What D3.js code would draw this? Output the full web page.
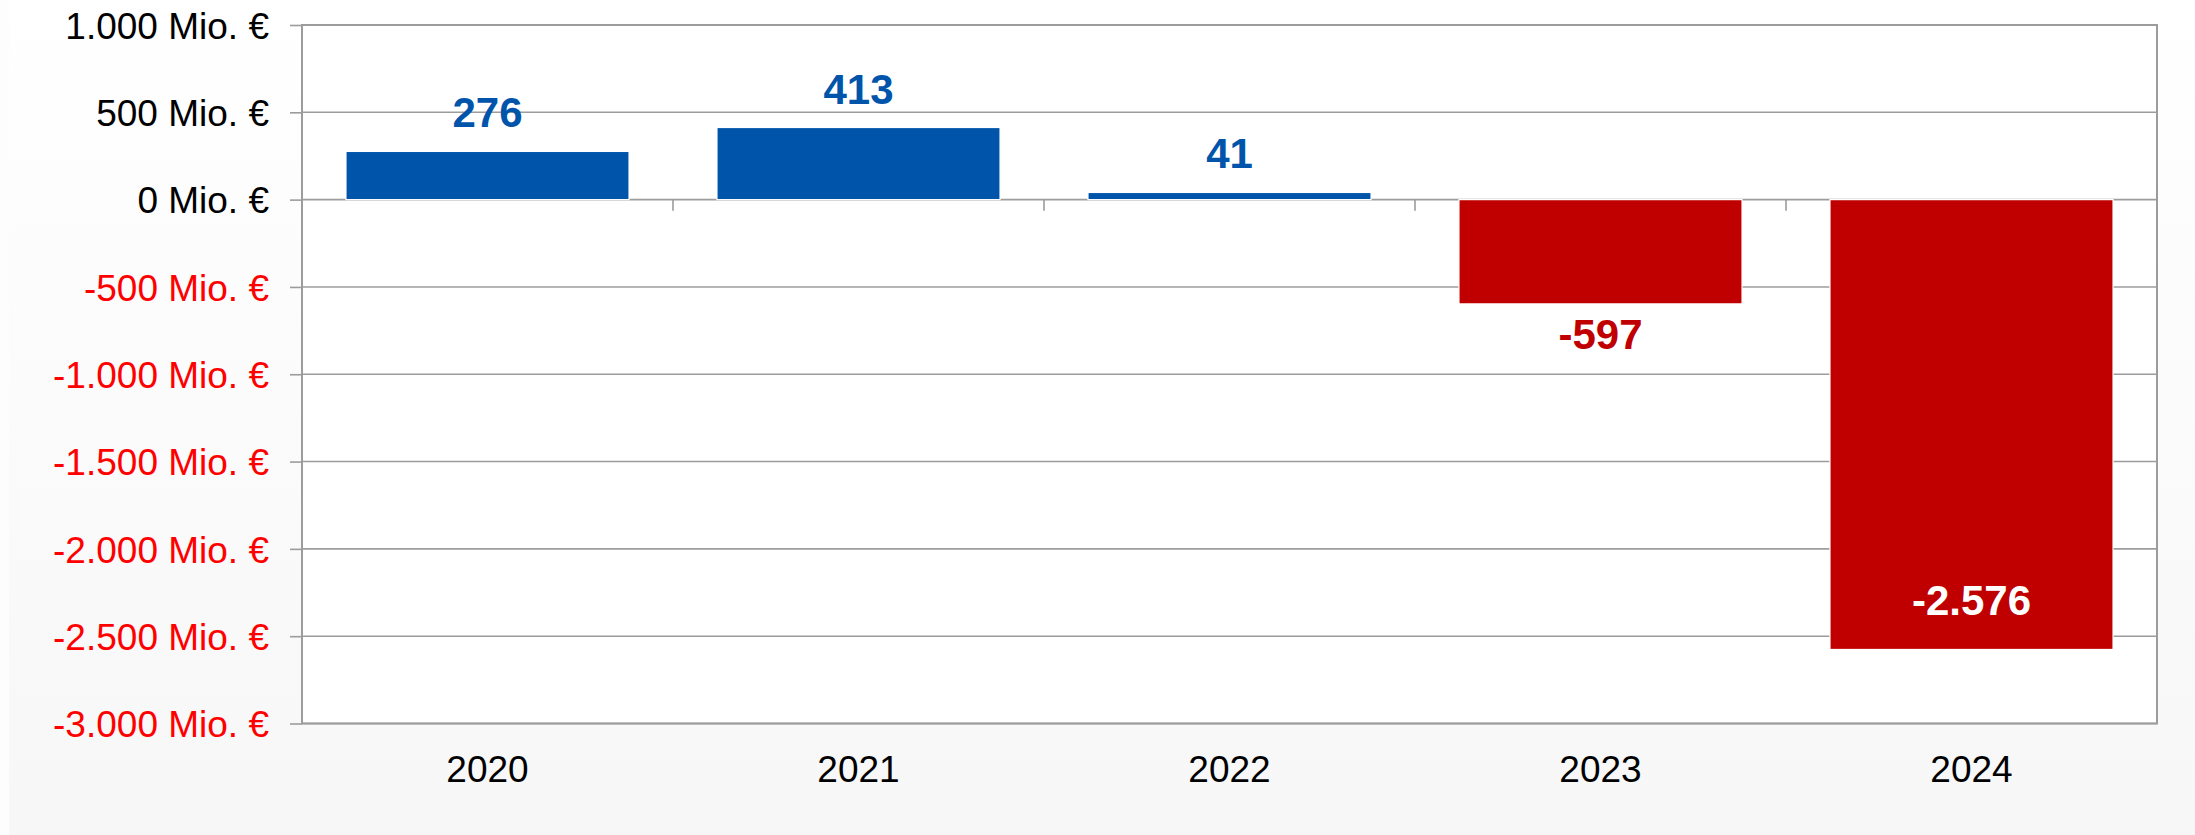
<!DOCTYPE html>
<html lang="de">

<head>
    <meta charset="UTF-8">
    <title>Jahresergebnis</title>
    <script src="https://d3js.org/d3.v7.min.js"></script>
    <style>
        body {
            margin: 0;
            background: #fff;
        }

        svg text {
            font-family: "Liberation Sans", Arial, sans-serif;
        }
    </style>
</head>

<body>
    <svg id="chart"></svg>

    <script>
        // chart data
        const years = ["2020", "2021", "2022", "2023", "2024"];
        const results = [276, 413, 41, -597, -2576];
        const yTicks = [1000, 500, 0, -500, -1000, -1500, -2000, -2500, -3000];

        const width = 2195;
        const height = 835;
        const margin = { top: 25, right: 38, bottom: 111.5, left: 302 };

        const blue = "#0055AB";
        const red = "#C00000";
        const gridColor = "#9c9c9c";

        // german number format (1.000 / -2.576)
        const de = d3.formatLocale({
            decimal: ",",
            thousands: ".",
            grouping: [3],
            currency: ["", " €"],
            minus: "-"
        });
        const fmt = de.format(",.0f");

        const svg = d3.select("#chart")
            .attr("width", width)
            .attr("height", height);

        // background gradient
        const grad = svg.append("defs").append("linearGradient")
            .attr("id", "bg")
            .attr("x1", 0).attr("y1", 0)
            .attr("x2", 0).attr("y2", 1);
        grad.append("stop").attr("offset", "0").attr("stop-color", "#ffffff");
        grad.append("stop").attr("offset", "0.1").attr("stop-color", "#fefefe");
        grad.append("stop").attr("offset", "1").attr("stop-color", "#f7f7f7");

        svg.append("rect")
            .attr("width", width)
            .attr("height", height)
            .attr("fill", "url(#bg)");
        svg.append("rect")
            .attr("width", 9)
            .attr("height", height)
            .attr("fill", "#fdfdfd");

        const x0 = margin.left;
        const x1 = width - margin.right;
        const y0 = margin.top;
        const y1 = height - margin.bottom;

        const x = d3.scaleBand()
            .domain(years)
            .range([x0, x1])
            .paddingInner(0.237)
            .paddingOuter(0.1185);

        const y = d3.scaleLinear()
            .domain([-3000, 1000])
            .range([y1, y0]);

        // plot area
        svg.append("rect")
            .attr("x", x0)
            .attr("y", y0)
            .attr("width", x1 - x0)
            .attr("height", y1 - y0)
            .attr("fill", "#ffffff");

        // horizontal gridlines
        svg.append("g")
            .selectAll("line")
            .data(yTicks)
            .join("line")
            .attr("x1", x0)
            .attr("x2", x1)
            .attr("y1", d => y(d))
            .attr("y2", d => y(d))
            .attr("stroke", gridColor)
            .attr("stroke-width", 1.6);

        // y axis with labels
        const yAxis = svg.append("g")
            .attr("transform", `translate(${x0},0)`)
            .call(d3.axisLeft(y)
                .tickValues(yTicks)
                .tickSize(12)
                .tickPadding(21)
                .tickFormat(d => fmt(d) + " Mio. €"));
        yAxis.select(".domain").remove();
        yAxis.selectAll(".tick line")
            .attr("stroke", gridColor)
            .attr("stroke-width", 1.6);
        yAxis.selectAll(".tick text")
            .attr("font-size", 37)
            .attr("dy", "0.36em")
            .attr("fill", d => d < 0 ? "#ff0000" : "#000000");

        // category boundary ticks below the zero line
        const bounds = years.map(d => x(d) - x.step() * x.paddingInner() / 2).slice(1).concat([x1]);
        svg.append("g")
            .selectAll("line")
            .data(bounds)
            .join("line")
            .attr("x1", d => d)
            .attr("x2", d => d)
            .attr("y1", y(0))
            .attr("y2", y(0) + 11)
            .attr("stroke", gridColor)
            .attr("stroke-width", 1.6);

        // bars
        svg.append("g")
            .selectAll("rect")
            .data(results)
            .join("rect")
            .attr("x", (d, i) => x(years[i]))
            .attr("width", x.bandwidth())
            .attr("y", d => y(Math.max(0, d)))
            .attr("height", d => Math.abs(y(d) - y(0)))
            .attr("fill", d => d >= 0 ? blue : red)
            .attr("stroke", "#ffffff")
            .attr("stroke-width", 1.2);

        // plot frame
        svg.append("rect")
            .attr("x", x0)
            .attr("y", y0)
            .attr("width", x1 - x0)
            .attr("height", y1 - y0)
            .attr("fill", "none")
            .attr("stroke", gridColor)
            .attr("stroke-width", 2);

        // x axis labels
        svg.append("g")
            .selectAll("text")
            .data(years)
            .join("text")
            .attr("x", d => x(d) + x.bandwidth() / 2)
            .attr("y", y1 + 58)
            .attr("text-anchor", "middle")
            .attr("font-size", 37)
            .attr("fill", "#000")
            .text(d => d);

        // value labels: above positive bars, below short negative bars, inside long ones
        svg.append("g")
            .selectAll("text")
            .data(results)
            .join("text")
            .attr("x", (d, i) => x(years[i]) + x.bandwidth() / 2)
            .attr("y", d => {
                if (d >= 0) return y(d) - 24;
                const barLen = y(d) - y(0);
                return barLen > 300 ? y(d) - 34 : y(d) + 45;
            })
            .attr("text-anchor", "middle")
            .attr("font-size", 42)
            .attr("font-weight", "bold")
            .attr("fill", d => {
                if (d >= 0) return blue;
                return (y(d) - y(0)) > 300 ? "#ffffff" : red;
            })
            .text(d => fmt(d));
    </script>
</body>

</html>
